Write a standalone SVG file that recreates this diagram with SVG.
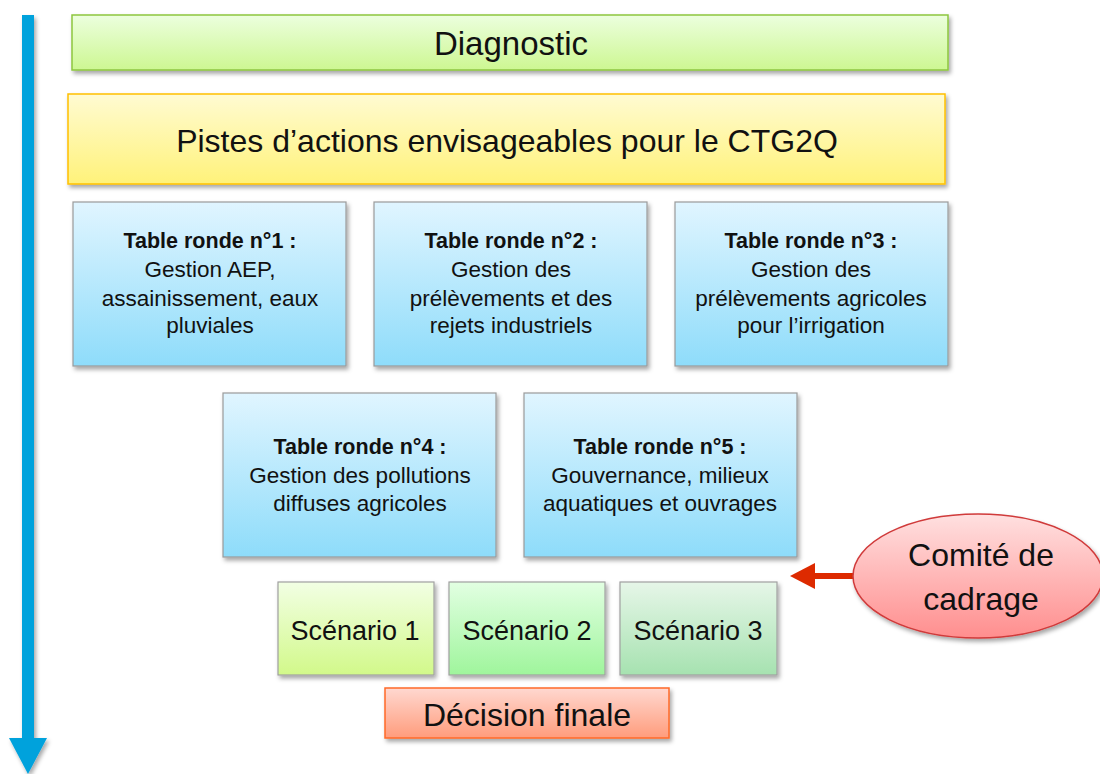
<svg xmlns="http://www.w3.org/2000/svg" width="1100" height="774" viewBox="0 0 1100 774">
<defs>
<linearGradient id="gDiag" x1="0" y1="0" x2="0" y2="1"><stop offset="0" stop-color="#ecffde"/><stop offset="1" stop-color="#cdf792"/></linearGradient>
<linearGradient id="gPistes" x1="0" y1="0" x2="0" y2="1"><stop offset="0" stop-color="#fffbd2"/><stop offset="1" stop-color="#fff27a"/></linearGradient>
<linearGradient id="gTable" x1="0" y1="0" x2="0" y2="1"><stop offset="0" stop-color="#e0f5ff"/><stop offset="1" stop-color="#8edcfa"/></linearGradient>
<linearGradient id="gS1" x1="0" y1="0" x2="0" y2="1"><stop offset="0" stop-color="#f2ffe4"/><stop offset="1" stop-color="#d2f98a"/></linearGradient>
<linearGradient id="gS2" x1="0" y1="0" x2="0" y2="1"><stop offset="0" stop-color="#e2ffe2"/><stop offset="1" stop-color="#9ff59c"/></linearGradient>
<linearGradient id="gS3" x1="0" y1="0" x2="0" y2="1"><stop offset="0" stop-color="#e6f6e8"/><stop offset="1" stop-color="#a6e2b0"/></linearGradient>
<linearGradient id="gDec" x1="0" y1="0" x2="0" y2="1"><stop offset="0" stop-color="#ffd8d0"/><stop offset="1" stop-color="#ff9c7c"/></linearGradient>
<linearGradient id="gCom" x1="0" y1="0" x2="0" y2="1"><stop offset="0" stop-color="#ffe0e0"/><stop offset="1" stop-color="#ff8e8e"/></linearGradient>
<filter id="sh" x="-10%" y="-10%" width="125%" height="130%"><feDropShadow dx="2" dy="3" stdDeviation="2" flood-color="#000" flood-opacity="0.35"/></filter>
</defs>
<style>
.t{font-family:"Liberation Sans",Arial,sans-serif;fill:#111;text-anchor:middle}
.tb{font-size:22.5px}
.tb .b{font-weight:bold;font-size:21.5px}
.box{stroke-width:1.5}
.tbl{fill:url(#gTable);stroke:#9a9a9a;stroke-width:1.2}
.scn{stroke:#a0a0a0;stroke-width:1.2}
</style>

<g id="timeline" filter="url(#sh)">
<rect x="22" y="15" width="12" height="725" fill="#00a2dc"/>
<polygon points="9,738 47,738 28,774" fill="#00a2dc"/>
</g>

<g id="diagnostic">
<rect x="72" y="15" width="876" height="55" fill="url(#gDiag)" stroke="#8dc63f" class="box" filter="url(#sh)"/>
<text class="t" x="511" y="55" font-size="33">Diagnostic</text>
</g>

<g id="pistes">
<rect x="68" y="94" width="877" height="90" fill="url(#gPistes)" stroke="#ffc000" class="box" filter="url(#sh)"/>
<text class="t" x="507" y="152" font-size="32">Pistes d’actions envisageables pour le CTG2Q</text>
</g>

<g id="table1">
<rect x="73" y="202" width="273" height="164" class="tbl" filter="url(#sh)"/>
<text class="t tb" x="210"><tspan class="b" x="210" y="248">Table ronde n°1 :</tspan><tspan x="210" y="277">Gestion AEP,</tspan><tspan x="210" y="306">assainissement, eaux</tspan><tspan x="210" y="333">pluviales</tspan></text>
</g>

<g id="table2">
<rect x="374" y="202" width="273" height="164" class="tbl" filter="url(#sh)"/>
<text class="t tb" x="511"><tspan class="b" x="511" y="248">Table ronde n°2 :</tspan><tspan x="511" y="277">Gestion des</tspan><tspan x="511" y="306">prélèvements et des</tspan><tspan x="511" y="333">rejets industriels</tspan></text>
</g>

<g id="table3">
<rect x="675" y="202" width="273" height="164" class="tbl" filter="url(#sh)"/>
<text class="t tb" x="811"><tspan class="b" x="811" y="248">Table ronde n°3 :</tspan><tspan x="811" y="277">Gestion des</tspan><tspan x="811" y="306">prélèvements agricoles</tspan><tspan x="811" y="333">pour l’irrigation</tspan></text>
</g>

<g id="table4">
<rect x="223" y="393" width="273" height="164" class="tbl" filter="url(#sh)"/>
<text class="t tb" x="360"><tspan class="b" x="360" y="454">Table ronde n°4 :</tspan><tspan x="360" y="483">Gestion des pollutions</tspan><tspan x="360" y="511">diffuses agricoles</tspan></text>
</g>

<g id="table5">
<rect x="524" y="393" width="273" height="164" class="tbl" filter="url(#sh)"/>
<text class="t tb" x="660"><tspan class="b" x="660" y="454">Table ronde n°5 :</tspan><tspan x="660" y="483">Gouvernance, milieux</tspan><tspan x="660" y="511">aquatiques et ouvrages</tspan></text>
</g>

<g id="scenario1">
<rect x="278" y="582" width="156" height="93" fill="url(#gS1)" class="scn" filter="url(#sh)"/>
<text class="t" x="355" y="640" font-size="27">Scénario 1</text>
</g>
<g id="scenario2">
<rect x="449" y="582" width="156" height="93" fill="url(#gS2)" class="scn" filter="url(#sh)"/>
<text class="t" x="527" y="640" font-size="27">Scénario 2</text>
</g>
<g id="scenario3">
<rect x="620" y="582" width="157" height="93" fill="url(#gS3)" class="scn" filter="url(#sh)"/>
<text class="t" x="698" y="640" font-size="27">Scénario 3</text>
</g>

<g id="decision">
<rect x="385" y="688" width="284" height="50" fill="url(#gDec)" stroke="#ff6a28" class="box" filter="url(#sh)"/>
<text class="t" x="527" y="726" font-size="32">Décision finale</text>
</g>

<g id="connectors">
<line x1="856" y1="576" x2="812" y2="576" stroke="#dd2a00" stroke-width="6"/>
<polygon points="790,576 815,563 815,589" fill="#dd2a00"/>
</g>

<g id="comite">
<ellipse cx="978" cy="576" rx="125" ry="62" fill="url(#gCom)" stroke="#d03a3a" stroke-width="1.5" filter="url(#sh)"/>
<text class="t" font-size="32"><tspan x="981" y="566">Comité de</tspan><tspan x="981" y="610">cadrage</tspan></text>
</g>
</svg>
